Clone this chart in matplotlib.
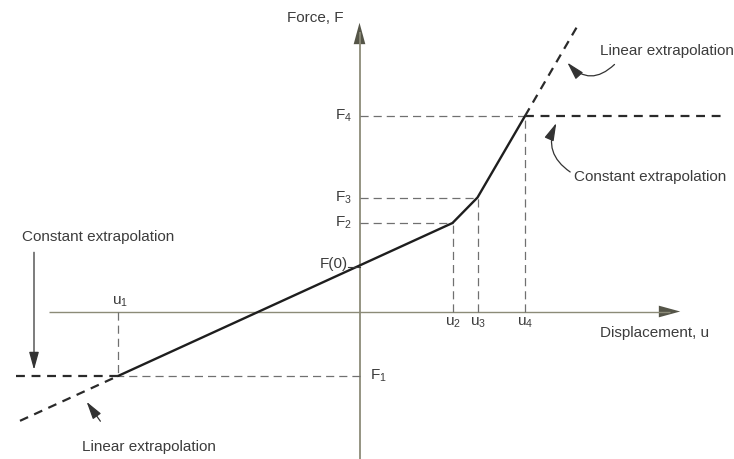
import numpy as np
import matplotlib
matplotlib.use("Agg")
from matplotlib import pyplot as plt
from matplotlib.patches import FancyArrowPatch

plt.rcParams['font.family'] = ['Liberation Sans', 'DejaVu Sans']
plt.rcParams['mathtext.default'] = 'regular'

# Piecewise linear force-displacement table (u_i, F_i)
u_pts = [-24.15, 9.3, 11.8, 16.55]
F_pts = [-6.45, 8.85, 11.4, 19.55]
u_names = ['$u_1$', '$u_2$', '$u_3$', '$u_4$']
F_names = ['$F_1$', '$F_2$', '$F_3$', '$F_4$']

# How far the extrapolated branches are drawn
u_lin_lo, u_lin_hi = -33.95, 21.7
u_const_lo, u_const_hi = -34.35, 36.35

TXT = '#3c3c3c'
AXC = '#8c8b78'
GRID = '#707070'
CURVE = '#1e1e1e'

fig = plt.figure(figsize=(7.34, 4.59), dpi=100)
ax = fig.add_axes([0, 0, 1, 1])
ax.set_xlim(-35.95, 37.45)
ax.set_ylim(-14.75, 31.15)
ax.axis('off')

u = np.array(u_pts)
F = np.array(F_pts)
F0 = np.interp(0.0, u, F)

# axes with arrow heads
ax.plot([-31.05, 31.0], [0, 0], color=AXC, lw=1.0, solid_capstyle='butt')
ax.plot([0, 0], [-14.75, 28.0], color=AXC, lw=1.3, solid_capstyle='butt')
ax.add_patch(FancyArrowPatch((30.5, 0), (32.35, 0), arrowstyle='-|>,head_length=1.1,head_width=0.3',
                             mutation_scale=14, color='#555548', lw=0))
ax.add_patch(FancyArrowPatch((0, 27.5), (0, 29.15), arrowstyle='-|>,head_length=1.1,head_width=0.3',
                             mutation_scale=14, color='#555548', lw=0))

# thin guide lines from the curve to the axes
thin = dict(color=GRID, lw=0.9, dashes=(6.5, 4))
for ui, Fi in zip(u, F):
    ax.plot([0, ui], [Fi, Fi], **thin)
    ax.plot([ui, ui], [0, Fi], **thin)

# the tabulated curve
ax.plot(u, F, color=CURVE, lw=1.7, solid_capstyle='round')

# extrapolation branches
thick = dict(color='#2a2a2a', lw=1.6, dashes=(4, 3))
s_lo = (F[1] - F[0]) / (u[1] - u[0])
s_hi = (F[3] - F[2]) / (u[3] - u[2])
ax.plot([u_lin_lo, u[0]], [F[0] + s_lo * (u_lin_lo - u[0]), F[0]], **thick)
ax.plot([u[3], u_lin_hi], [F[3], F[3] + s_hi * (u_lin_hi - u[3])], **thick)
ax.plot([u_const_lo, u[0]], [F[0], F[0]], **thick)
ax.plot([u[3], u_const_hi], [F[3], F[3]], **thick)

# tick labels for the table entries
fs = 11
ax.text(u[0] + 0.2, 0.25, u_names[0], ha='center', va='bottom', fontsize=fs, color=TXT)
for ui, name in zip(u[1:], u_names[1:]):
    ax.text(ui, -0.4, name, ha='center', va='top', fontsize=fs, color=TXT)
ax.text(1.0, F[0], F_names[0], ha='left', va='center', fontsize=fs, color=TXT)
for Fi, name in zip(F[1:], F_names[1:]):
    ax.text(-0.8, Fi, name, ha='right', va='center', fontsize=fs, color=TXT)
ax.text(-1.2, F0 + 0.2, 'F(0)', ha='right', va='center', fontsize=fs, color=TXT)
ax.plot([-1.2, 0], [F0 - 0.15, F0 - 0.15], color=TXT, lw=0.8)

# axis titles
ax.text(-1.6, 29.35, 'Force, F', ha='right', va='center', fontsize=fs, color=TXT)
ax.text(24.0, -2.1, 'Displacement, u', ha='left', va='center', fontsize=fs, color=TXT)

# callouts
ax.text(24.0, 26.0, 'Linear extrapolation', ha='left', va='center', fontsize=fs, color=TXT)
ax.text(21.5, 13.4, 'Constant extrapolation', ha='left', va='center', fontsize=fs, color=TXT)
ax.text(-33.8, 7.4, 'Constant extrapolation', ha='left', va='center', fontsize=fs, color=TXT)
ax.text(-27.8, -13.6, 'Linear extrapolation', ha='left', va='center', fontsize=fs, color=TXT)

arr = dict(arrowstyle='-|>,head_length=0.9,head_width=0.25', mutation_scale=12,
           color='#333333', lw=0.9)
ax.add_patch(FancyArrowPatch((25.7, 24.9), (20.6, 25.1), connectionstyle='arc3,rad=-0.55', **arr))
ax.add_patch(FancyArrowPatch((21.3, 13.8), (19.8, 19.1), connectionstyle='arc3,rad=-0.45', **arr))
ax.add_patch(FancyArrowPatch((-32.55, 6.2), (-32.55, -6.1), **arr))
ax.add_patch(FancyArrowPatch((-25.75, -11.2), (-27.45, -8.8), **arr))

fig.savefig('out.png', dpi=100, facecolor='white')
